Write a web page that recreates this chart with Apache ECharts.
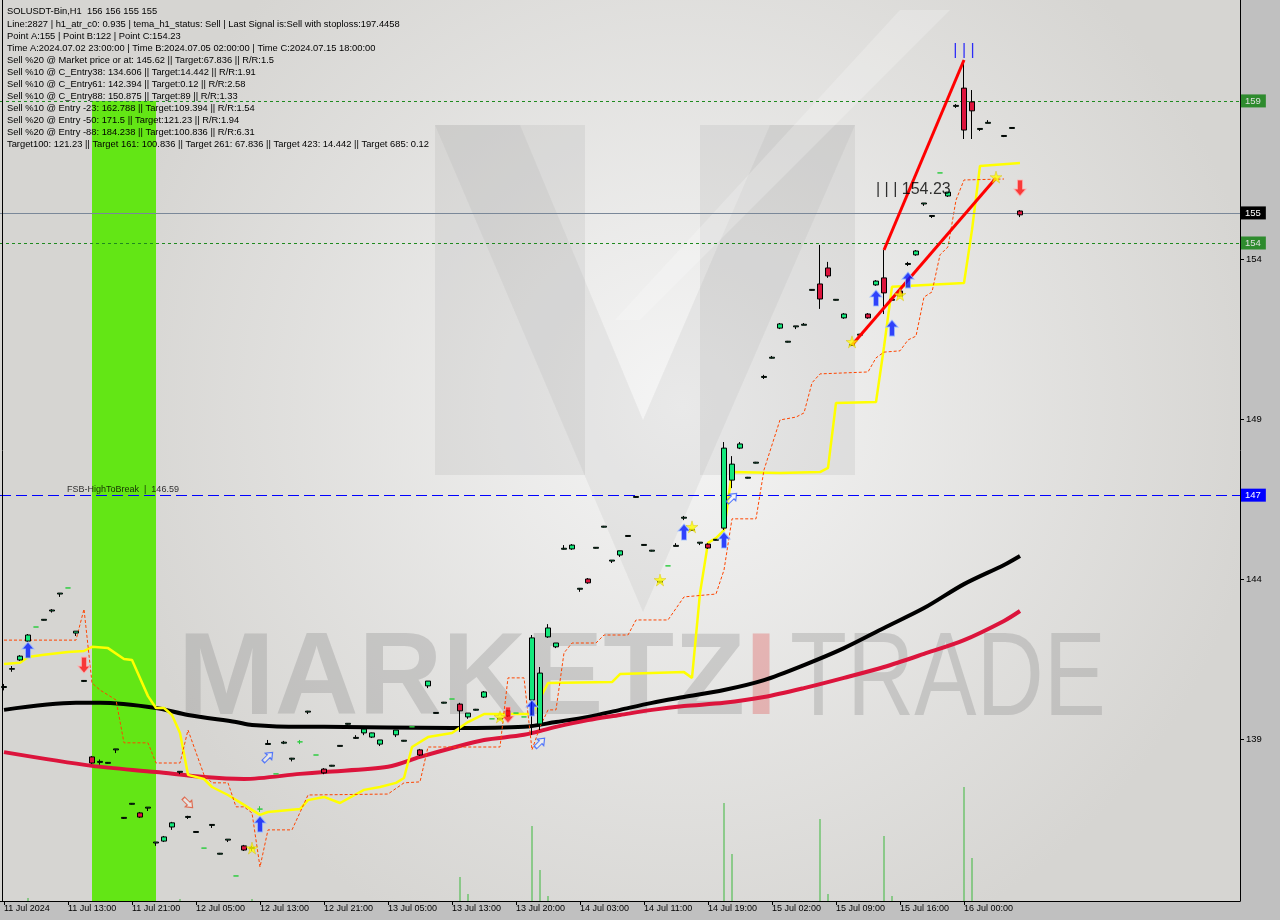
<!DOCTYPE html>
<html><head><meta charset="utf-8">
<script src="https://cdn.jsdelivr.net/npm/echarts@6/dist/echarts.min.js"></script>
<style>html,body{margin:0;padding:0;background:#c0c0c0}#c{width:1280px;height:920px}</style>
</head><body><div id="c"></div>
<script>
const FONT = "'Liberation Sans', Arial, sans-serif";
const tickLabels = ["11 Jul 2024","11 Jul 13:00","11 Jul 21:00","12 Jul 05:00","12 Jul 13:00","12 Jul 21:00","13 Jul 05:00","13 Jul 13:00","13 Jul 20:00","14 Jul 03:00","14 Jul 11:00","14 Jul 19:00","15 Jul 02:00","15 Jul 09:00","15 Jul 16:00","16 Jul 00:00"];
const infoLines = [
"SOLUSDT-Bin,H1  156 156 155 155",
"Line:2827 | h1_atr_c0: 0.935 | tema_h1_status: Sell | Last Signal is:Sell with stoploss:197.4458",
"Point A:155 | Point B:122 | Point C:154.23",
"Time A:2024.07.02 23:00:00 | Time B:2024.07.05 02:00:00 | Time C:2024.07.15 18:00:00",
"Sell %20 @ Market price or at: 145.62 || Target:67.836 || R/R:1.5",
"Sell %10 @ C_Entry38: 134.606 || Target:14.442 || R/R:1.91",
"Sell %10 @ C_Entry61: 142.394 || Target:0.12 || R/R:2.58",
"Sell %10 @ C_Entry88: 150.875 || Target:89 || R/R:1.33",
"Sell %10 @ Entry -23: 162.788 || Target:109.394 || R/R:1.54",
"Sell %20 @ Entry -50: 171.5 || Target:121.23 || R/R:1.94",
"Sell %20 @ Entry -88: 184.238 || Target:100.836 || R/R:6.31",
"Target100: 121.23 || Target 161: 100.836 || Target 261: 67.836 || Target 423: 14.442 || Target 685: 0.12"
];
// [open, close, low, high]
const candles = [
[140.61,140.64,140.52,140.72],[141.18,141.2,141.1,141.28],[141.47,141.59,141.44,141.62],[142.06,142.25,142.03,142.28],
[142.5,142.5,142.5,142.5],[142.71,142.74,142.7,142.75],[143.0,143.03,142.95,143.06],[143.53,143.56,143.44,143.56],
[143.72,143.72,143.72,143.72],[142.31,142.37,142.22,142.37],[140.8,140.83,140.78,140.84],[138.44,138.25,138.22,138.47],
[138.27,138.3,138.2,138.36],[138.24,138.27,138.23,138.28],[138.66,138.69,138.56,138.69],[136.52,136.55,136.5,136.56],
[136.96,136.99,136.95,137.0],[136.69,136.56,136.53,136.72],[136.84,136.87,136.75,136.87],[135.75,135.78,135.66,135.78],
[135.81,135.94,135.78,135.97],[136.25,136.38,136.16,136.41],[137.96,137.99,137.9,138.0],[136.55,136.58,136.5,136.6],
[136.08,136.11,136.07,136.12],[135.59,135.59,135.59,135.59],[136.3,136.33,136.22,136.34],[135.4,135.43,135.39,135.44],
[135.84,135.87,135.78,135.87],[134.72,134.72,134.72,134.72],[135.66,135.53,135.5,135.69],[135.58,135.61,135.5,135.66],
[136.81,136.81,136.72,136.9],[138.83,138.86,138.83,138.97],[137.91,137.91,137.91,137.91],[138.87,138.9,138.84,138.94],
[138.37,138.4,138.3,138.41],[138.91,138.91,138.84,138.97],[139.84,139.87,139.78,139.88],[138.5,138.5,138.5,138.5],
[138.06,137.94,137.9,138.09],[138.15,138.18,138.14,138.19],[138.77,138.8,138.76,138.81],[139.46,139.49,139.45,139.5],
[139.02,139.05,139.0,139.12],[139.19,139.31,139.12,139.31],[139.06,139.19,139.03,139.2],[138.84,138.97,138.78,138.97],
null,[139.13,139.28,139.06,139.28],[138.93,138.96,138.92,138.97],[139.38,139.38,139.38,139.38],
[138.66,138.5,138.47,138.69],[140.66,140.81,140.59,140.81],[139.8,139.83,139.79,139.84],[140.12,140.15,140.11,140.16],
[140.25,140.25,140.25,140.25],[140.09,139.88,139.22,140.13],[139.69,139.81,139.63,139.81],[139.9,139.93,139.89,139.94],
[140.31,140.47,140.28,140.5],[139.63,139.63,139.63,139.63],[139.62,139.65,139.6,139.66],[139.88,139.72,139.69,139.91],
[139.81,139.81,139.81,139.81],[139.69,139.69,139.69,139.69],[140.22,142.16,139.13,142.25],[139.47,141.06,139.28,141.25],
[142.19,142.47,142.16,142.59],[141.88,142.0,141.84,142.0],[144.93,144.96,144.92,145.06],[144.94,145.06,144.91,145.09],
[143.68,143.71,143.6,143.72],[144.0,143.88,143.85,144.03],[144.96,144.99,144.95,145.0],[145.62,145.65,145.61,145.66],
[144.56,144.59,144.5,144.59],[144.75,144.88,144.69,144.88],[145.33,145.36,145.32,145.37],[146.55,146.58,146.54,146.59],
[145.05,145.08,145.04,145.09],[144.87,144.9,144.86,144.91],[143.9,143.93,143.88,143.94],[144.41,144.41,144.41,144.41],
[145.02,145.05,145.02,145.12],[145.9,145.93,145.84,145.97],[145.52,145.55,145.5,145.56],[145.12,145.15,145.06,145.15],
[145.09,144.97,144.94,145.12],[145.21,145.24,145.2,145.25],[145.59,148.09,145.53,148.28],[147.09,147.59,146.84,147.84],
[148.09,148.22,148.06,148.28],[147.15,147.18,147.14,147.19],[147.62,147.65,147.61,147.66],[150.3,150.33,150.25,150.38],
[150.9,150.93,150.89,150.97],[151.84,151.97,151.81,152.0],[151.4,151.43,151.39,151.44],[151.88,151.91,151.81,151.91],
[151.93,151.96,151.93,152.0],[153.02,153.05,153.01,153.06],[153.22,152.75,152.44,154.44],[153.72,153.47,153.41,153.91],
[152.71,152.74,152.7,152.75],[152.16,152.28,152.13,152.31],[151.3,151.33,151.28,151.34],[151.62,151.65,151.61,151.66],
[152.28,152.16,152.13,152.31],[153.19,153.31,153.16,153.34],[153.41,152.94,152.28,154.28],[152.71,152.74,152.7,152.75],
[153.0,152.84,152.81,153.03],[153.83,153.86,153.78,153.91],[154.13,154.25,154.1,154.28],[155.72,155.75,155.66,155.75],
[155.33,155.36,155.28,155.37],[156.69,156.69,156.69,156.69],[155.97,156.09,155.94,156.09],[158.77,158.8,158.72,158.84],
[159.34,158.03,157.75,160.22],[158.91,158.63,157.75,159.28],[158.05,158.08,158.0,158.09],[158.24,158.27,158.24,158.34],
null,[157.83,157.86,157.81,157.87],[158.08,158.11,158.07,158.12],[155.5,155.38,155.31,155.53]
];
const blackMA = [[0,139.91],[9,140.13],[12,140.13],[19,139.97],[23,139.75],[29,139.53],[31,139.44],[37,139.38],[40,139.38],[56,139.34],[65,139.38],[69,139.53],[73,139.69],[77,139.91],[81,140.13],[85,140.31],[90,140.53],[95,140.84],[100,141.31],[105,141.84],[110,142.47],[115,143.09],[120,143.84],[125,144.44],[127,144.72]];
const redMA = [[0,138.59],[11,138.16],[19,137.97],[25,137.81],[30,137.75],[37,137.91],[40,137.97],[48,138.13],[52,138.44],[56,138.72],[60,138.97],[65,139.13],[69,139.38],[73,139.59],[77,139.75],[81,139.91],[85,140.03],[90,140.13],[95,140.31],[100,140.59],[105,140.91],[110,141.25],[115,141.66],[120,142.09],[125,142.69],[127,143.0]];
const yellowLine = [[0,141.34],[2,141.38],[3,141.56],[5,141.63],[8,141.72],[10,141.75],[11,141.88],[13,141.84],[15,141.5],[16,141.47],[18,140.34],[19,139.97],[20,139.97],[21,139.75],[22,139.19],[23,137.88],[25,137.75],[26,137.5],[28,137.25],[30,136.94],[32,136.63],[33,136.72],[37,136.81],[38,137.09],[40,137.19],[42,137.0],[45,137.41],[47,137.5],[49,137.63],[50,137.78],[51,138.75],[53,139.06],[56,139.19],[58,139.53],[60,139.78],[66,139.78],[68,140.75],[76,140.78],[77,141.03],[85,141.09],[86,140.91],[87,143.56],[88,145.13],[89,145.28],[90,145.53],[91,147.34],[97,147.31],[102,147.34],[103,147.47],[104,149.5],[109,149.53],[110,151.25],[111,153.13],[120,153.25],[121,154.91],[122,156.91],[127,157.0]];
const orangeLine = [[0,142.09],[9,142.09],[10,143.06],[11,140.75],[12,140.53],[14,140.22],[15,138.88],[18,138.88],[19,138.25],[22,138.25],[23,139.28],[25,137.88],[26,137.63],[28,137.63],[29,136.88],[30,136.88],[31,136.69],[32,135.0],[33,136.16],[36,136.16],[38,137.25],[48,137.28],[50,137.63],[52,137.66],[53,138.75],[62,138.75],[63,140.91],[65,140.91],[66,138.66],[67,139.38],[68,139.91],[69,139.91],[70,141.69],[71,142.0],[74,142.0],[75,142.25],[78,142.25],[79,142.72],[83,142.72],[85,143.44],[89,143.53],[90,144.28],[91,145.88],[94,145.88],[95,147.41],[97,148.97],[99,149.06],[100,149.19],[101,150.13],[102,150.41],[108,150.47],[109,150.91],[110,151.09],[112,151.13],[113,151.47],[114,151.59],[115,152.81],[116,152.97],[117,154.13],[118,154.38],[119,155.84],[120,156.47],[125,156.5]];
const volume = [[3,3],[22,2],[31,2],[57,24],[58,7],[66,75],[67,31],[68,5],[90,98],[91,47],[102,82],[103,7],[110,65],[111,5],[120,114],[121,43]];
const trend1 = [[110,154.28],[120,160.22]];
const trend2 = [[106,151.31],[124,156.53]];
const blueUp = [[3,141.78],[32,136.34],[66,139.97],[85,145.47],[90,145.22],[109,152.78],[111,151.84],[113,153.34]];
const redDown = [[10,141.31],[63,139.75],[127,156.22]];
const stars = [[31,135.59],[62,139.69],[82,143.97],[86,145.63],[106,151.41],[112,152.88],[124,156.56]];
const hollowUp = [[33,138.44],[67,138.88],[91,146.53]];
const hollowDown = [[23,137.0]];
const levelValues = [158.94, 155.44, 154.5, 146.62];
const levelLabels = ['159','155','154','147'];
const yTicks = [139,144,149,154];
const bandStart = 11, bandEnd = 19, bandTop = 158.94;
const fsbLevel = 146.62, fsbText = 'FSB-HighToBreak  |  146.59';
const pointCText = '| | | 154.23', pointCBar = 109, pointCPrice = 156.16;
const barsText = '| | |', barsBar = 120, barsPrice = 160.5;

const N = 155;
const cats = Array.from({length: N}, (_, i) => String(i));
const Y_MIN = 133.9375, Y_MAX = 162.09375;

const ARROW = 'path://M6,0L12,7L8.5,7L8.5,16L3.5,16L3.5,7L0,7Z';
const STAR = 'path://M50,0L61,35L98,35L68,57L79,91L50,70L21,91L32,57L2,35L39,35Z';

const chart = echarts.init(document.getElementById('c'), null, {renderer: 'canvas'});
const tickInt = (i) => i % 8 === 0 && i / 8 < tickLabels.length;

const levelColors = [
  {line: '#1f8a1f', type: [3,3], bg: '#2e8b2e', fg: '#e0e0e0'},
  {line: '#7a8899', type: 'solid', bg: '#000000', fg: '#ffffff'},
  {line: '#1f8a1f', type: [3,3], bg: '#2e8b2e', fg: '#e0e0e0'},
  {line: '#0000ff', type: [11,5], bg: '#0000ff', fg: '#ffffff'}
];

const graphics = [
  {type: 'rect', z: -10, shape: {x: 0, y: 0, width: 1240, height: 901},
   style: {fill: new echarts.graphic.RadialGradient(0.55, 0.45, 0.65, [{offset: 0, color: '#f5f5f5'}, {offset: 1, color: '#d6d5d2'}])}},
  // watermark logo
  {type: 'polygon', z: -9, shape: {points: [[435,125],[585,125],[585,475],[435,475]]}, style: {fill: 'rgba(150,150,150,0.15)'}},
  {type: 'polygon', z: -9, shape: {points: [[700,125],[855,125],[855,475],[700,475]]}, style: {fill: 'rgba(150,150,150,0.15)'}},
  {type: 'polygon', z: -9, shape: {points: [[435,125],[520,125],[643,420],[770,125],[855,125],[643,612]]}, style: {fill: 'rgba(150,150,150,0.12)'}},
  {type: 'polygon', z: -9, shape: {points: [[900,10],[950,10],[640,320],[615,320]]}, style: {fill: 'rgba(255,255,255,0.22)'}},
  {type: 'text', z: -8, style: {x: 178, y: 682, text: 'MARKETZ', font: 'bold 116px ' + FONT, fill: 'rgba(140,140,140,0.32)', verticalAlign: 'middle'}},
  {type: 'text', z: -8, style: {x: 745, y: 682, text: 'I', font: 'bold 116px ' + FONT, fill: 'rgba(225,110,110,0.42)', verticalAlign: 'middle'}},
  {type: 'group', z: -8, x: 790, y: 682, scaleX: 0.79, children: [
    {type: 'text', z: -8, style: {x: 0, y: 0, text: 'TRADE', font: '118px ' + FONT, fill: 'rgba(140,140,140,0.32)', verticalAlign: 'middle'}}]},
  {type: 'line', z: 50, shape: {x1: 2.5, y1: 0, x2: 2.5, y2: 901}, style: {stroke: '#000', lineWidth: 1}}
];
infoLines.forEach((t, k) => {
  graphics.push({type: 'text', z: 100, style: {x: 7, y: (k === 0 ? 11 : 24 + (k - 1) * 12), text: t, font: '9.35px ' + FONT, fill: '#000', verticalAlign: 'middle'}});
});

const option = {
  animation: false,
  backgroundColor: 'transparent',
  grid: {left: -1, right: 40, top: 0, bottom: 19, containLabel: false},
  xAxis: {
    type: 'category', data: cats, boundaryGap: true,
    axisLine: {show: true, lineStyle: {color: '#000', width: 1}},
    axisTick: {show: true, alignWithLabel: true, interval: tickInt, length: 4, lineStyle: {color: '#000'}},
    axisLabel: {interval: tickInt, formatter: (v, i) => tickLabels[Math.round(Number(v) / 8)] || '', align: 'left', margin: 3,
      fontSize: 9, fontFamily: FONT, color: '#000'},
    splitLine: {show: false}
  },
  yAxis: [
    {type: 'value', position: 'right', min: Y_MIN, max: Y_MAX, scale: true,
     axisLine: {show: true, lineStyle: {color: '#000'}},
     axisTick: {show: true, customValues: yTicks, length: 4, lineStyle: {color: '#000'}},
     axisLabel: {show: true, customValues: yTicks, fontSize: 9.5, fontFamily: FONT, color: '#000', margin: 6},
     splitLine: {show: false}},
    {type: 'value', min: 0, max: 901, show: false}
  ],
  graphic: graphics,
  series: [
    {type: 'line', data: [], z: 1, silent: true,
     markArea: {silent: true, itemStyle: {color: '#63e615'},
       data: [[{xAxis: String(bandStart), yAxis: bandTop}, {xAxis: String(bandEnd), yAxis: Y_MIN}]]}},
    {type: 'bar', yAxisIndex: 1, data: volume, barWidth: 1, z: 2, itemStyle: {color: '#3cb83c'}, silent: true},
    {type: 'line', data: blackMA, symbol: 'none', smooth: 0.3, z: 3, lineStyle: {color: '#000', width: 4}},
    {type: 'line', data: redMA, symbol: 'none', smooth: 0.3, z: 3, lineStyle: {color: '#dc143c', width: 4}},
    {type: 'line', data: yellowLine, symbol: 'none', z: 4, lineStyle: {color: '#ffff00', width: 2.5}},
    {type: 'line', data: orangeLine, symbol: 'none', z: 4, lineStyle: {color: '#ff4500', width: 1, type: [3,2]}},
    {type: 'candlestick', z: 6, barWidth: 5,
     data: candles.map(c => c ? c : ['-','-','-','-']),
     itemStyle: {color: '#14e87c', color0: '#dc143c', borderColor: '#000', borderColor0: '#000', borderColorDoji: '#2ecc40', borderWidth: 1},
     markLine: {silent: true, symbol: 'none', z: 5,
       data: levelValues.map((v, k) => ({yAxis: v,
         lineStyle: {color: levelColors[k].line, type: levelColors[k].type, width: 1},
         label: {show: true, position: 'end', distance: 1, formatter: levelLabels[k], color: levelColors[k].fg,
           backgroundColor: levelColors[k].bg, padding: [2, 5, 1, 4], fontSize: 9.5, fontFamily: FONT}}))}},
    {type: 'line', data: trend1, symbol: 'none', z: 7, lineStyle: {color: '#ff0000', width: 3}},
    {type: 'line', data: trend2, symbol: 'none', z: 7, lineStyle: {color: '#ff0000', width: 3}},
    {type: 'scatter', data: blueUp, symbol: ARROW, symbolSize: [12, 16], z: 8,
     itemStyle: {color: '#0018ff', borderColor: '#9fc0ff', borderWidth: 1}},
    {type: 'scatter', data: redDown, symbol: ARROW, symbolSize: [12, 16], symbolRotate: 180, z: 8,
     itemStyle: {color: '#ff1010', borderColor: '#ffb0b0', borderWidth: 1}},
    {type: 'scatter', data: stars, symbol: STAR, symbolSize: 12, z: 8,
     itemStyle: {color: '#ffff00', borderColor: '#d4b800', borderWidth: 0.5}},
    {type: 'scatter', data: hollowUp, symbol: ARROW, symbolSize: [9, 13], symbolRotate: -45, z: 8,
     itemStyle: {color: 'rgba(255,255,255,0.5)', borderColor: '#2f5dff', borderWidth: 1.2}},
    {type: 'scatter', data: hollowDown, symbol: ARROW, symbolSize: [9, 13], symbolRotate: -135, z: 8,
     itemStyle: {color: 'rgba(255,255,255,0.5)', borderColor: '#e05030', borderWidth: 1.2}},
    {type: 'scatter', data: [[8, fsbLevel]], symbolSize: 0, z: 9,
     label: {show: true, formatter: fsbText, position: 'right', distance: -1, offset: [0, -6], fontSize: 9, fontFamily: FONT, color: '#000'}},
    {type: 'scatter', data: [[pointCBar, pointCPrice]], symbolSize: 0, z: 9,
     label: {show: true, formatter: pointCText, position: 'right', distance: 0, fontSize: 16, fontFamily: FONT, color: '#000'}},
    {type: 'scatter', data: [[barsBar, barsPrice]], symbolSize: 0, z: 9,
     label: {show: true, formatter: barsText, position: 'inside', fontSize: 16, fontFamily: FONT, color: '#0000ff'}}
  ]
};
chart.setOption(option);
</script></body></html>
